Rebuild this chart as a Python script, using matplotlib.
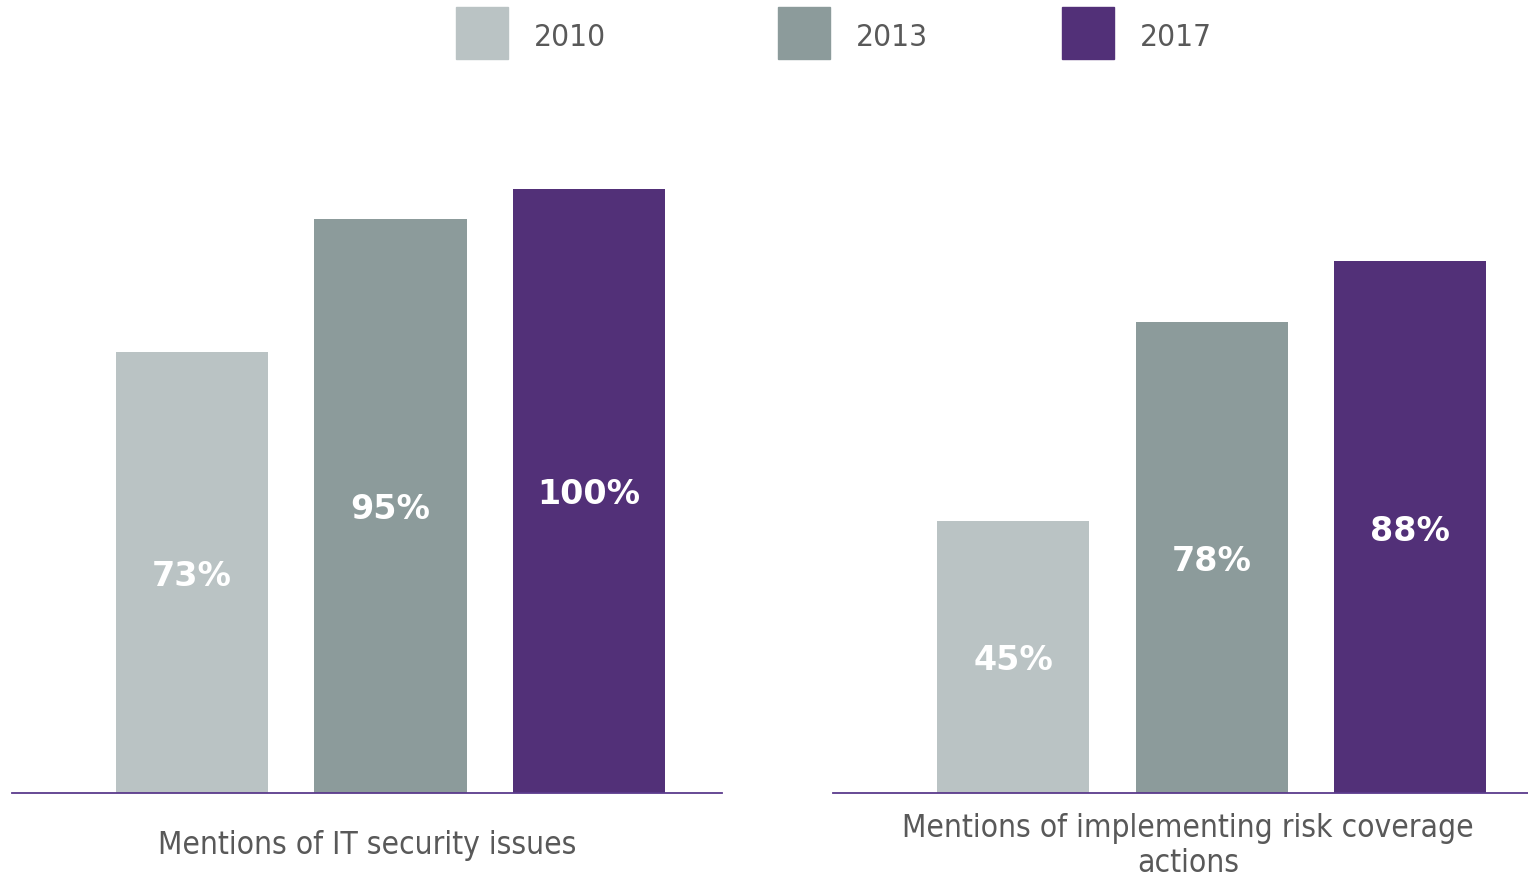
import matplotlib.pyplot as plt
from matplotlib.patches import Rectangle

years = ["2010", "2013", "2017"]
colors = ["#BAC3C4", "#8C9B9B", "#523078"]

it_security = [0.73, 0.95, 1.00]
risk_coverage = [0.45, 0.78, 0.88]
panel_titles = ["Mentions of IT security issues",
                "Mentions of implementing risk coverage\nactions"]

text_grey = "#595959"
axis_purple = "#5B3A8C"

fig = plt.figure(figsize=(15.28, 8.79), dpi=100)

panels = [
    (fig.add_axes([12 / 1528, 85 / 879, 710 / 1528, 604 / 879]), it_security, (-0.907, 2.67)),
    (fig.add_axes([833 / 1528, 85 / 879, 695 / 1528, 604 / 879]), risk_coverage, (-0.907, 2.594)),
]

for (ax, values, xlim), title in zip(panels, panel_titles):
    x = range(len(values))
    bars = ax.bar(x, values, width=0.766, color=colors, zorder=2)
    for bar, v in zip(bars, values):
        ax.annotate(f"{v:.0%}", (bar.get_x() + bar.get_width() / 2, v / 2),
                    xytext=(0, -2), textcoords="offset points",
                    ha="center", va="center", color="white", fontsize=24,
                    fontweight="bold")
    ax.set_xlim(*xlim)
    ax.set_ylim(0, 1.0)
    for side in ["top", "left", "right"]:
        ax.spines[side].set_visible(False)
    ax.spines["bottom"].set_color(axis_purple)
    ax.spines["bottom"].set_linewidth(1.3)
    ax.set_xticks([])
    ax.set_yticks([])
    ax.patch.set_visible(False)

fig.text(367 / 1528, 1 - 846 / 879, panel_titles[0], ha="center", va="center",
         color=text_grey, fontsize=22.7, fontstretch="condensed")
fig.text(1188 / 1528, 1 - 846 / 879, panel_titles[1], ha="center", va="center",
         color=text_grey, fontsize=22.7, fontstretch="condensed", linespacing=1.2)

# legend
legend_x = [456, 778, 1062]
for lx, year, c in zip(legend_x, years, colors):
    fig.add_artist(Rectangle((lx / 1528, 1 - 60 / 879), 52 / 1528, 52 / 879,
                             transform=fig.transFigure, color=c))
    fig.text((lx + 78) / 1528, 1 - 38 / 879, year, ha="left", va="center",
             color=text_grey, fontsize=22.6, fontstretch="condensed")

fig.savefig("out.png", dpi=100)
